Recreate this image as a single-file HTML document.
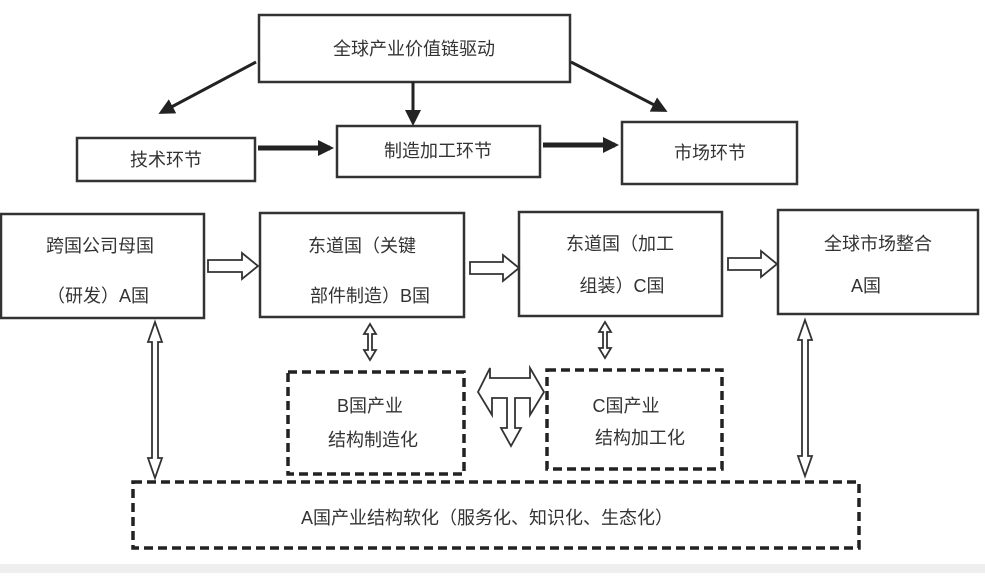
<!DOCTYPE html>
<html><head><meta charset="utf-8"><style>
body{margin:0;background:#fff}
svg text{font-family:"Liberation Sans","Noto Sans CJK SC",sans-serif;fill:#333;font-size:18px}
</style></head><body>
<svg width="985" height="573" viewBox="0 0 985 573" xmlns="http://www.w3.org/2000/svg">
<rect width="985" height="573" fill="#fff"/>
<rect x="0" y="564" width="985" height="9" fill="#eee"/>
<defs><marker id="ah" markerWidth="8" markerHeight="8" refX="6" refY="4" orient="auto" markerUnits="userSpaceOnUse"><path d="M0,0 L8,4 L0,8 z" fill="#222"/></marker>
<marker id="ah2" markerWidth="16" markerHeight="16" refX="12" refY="8" orient="auto" markerUnits="userSpaceOnUse"><path d="M0,0 L16,8 L0,16 z" fill="#222"/></marker></defs>
<g fill="none" stroke="#333" stroke-width="2.5">
<rect x="259" y="15" width="311" height="67"/>
<rect x="77" y="138" width="178" height="43"/>
<rect x="337" y="126" width="203" height="51"/>
<rect x="622" y="122" width="175" height="62"/>
<rect x="1" y="214" width="203" height="104"/>
<rect x="260" y="213" width="204" height="104"/>
<rect x="519" y="212" width="203" height="104"/>
<rect x="778" y="210" width="200" height="104"/>
</g>
<g fill="none" stroke="#222" stroke-width="3.5" stroke-dasharray="9,5">
<rect x="288" y="372" width="176" height="102"/>
<rect x="547" y="370" width="175" height="99"/>
<rect x="133" y="482" width="726" height="66"/>
</g>
<g stroke="#222" stroke-width="3">
<line x1="256" y1="62" x2="162" y2="112" marker-end="url(#ah2)"/>
<line x1="571" y1="62" x2="664" y2="110" marker-end="url(#ah2)"/>
<line x1="413" y1="82" x2="413" y2="122" marker-end="url(#ah2)"/>
<line x1="258" y1="148" x2="330" y2="148" stroke-width="5" marker-end="url(#ah2)"/>
<line x1="543" y1="145" x2="615" y2="145" stroke-width="5" marker-end="url(#ah2)"/>
</g>
<g fill="#fff" stroke="#333" stroke-width="1.8">
<path d="M208,260 H242 V253 L258,266 L242,279 V272 H208 Z"/>
<path d="M470,262 H503 V255 L519,268 L503,281 V274 H470 Z"/>
<path d="M728,258 H761 V251 L777,264 L761,277 V270 H728 Z"/>
<path d="M155,322 L162,342 H158 V458 H162 L155,478 L148,458 H152 V342 H148 Z"/>
<path d="M805,320 L812,340 H808 V456 H812 L805,476 L798,456 H802 V340 H798 Z"/>
<path d="M370,324 L376,334 H372 V350 H376 L370,360 L364,350 H368 V334 H364 Z"/>
<path d="M605,322 L611,332 H607 V348 H611 L605,358 L599,348 H603 V332 H599 Z"/>
<path d="M478,392 L490,368 V378 H530 V368 L544,392 L530,415 V398 H515 V428 H521 L511,446 L501,428 H507 V398 H492 V415 Z"/>
</g>
<text x="414" y="55" text-anchor="middle">全球产业价值链驱动</text>
<text x="166" y="166" text-anchor="middle">技术环节</text>
<text x="438" y="157" text-anchor="middle">制造加工环节</text>
<text x="710" y="159" text-anchor="middle">市场环节</text>
<text x="100" y="252" text-anchor="middle">跨国公司母国</text>
<text x="98" y="302" text-anchor="middle">（研发）A国</text>
<text x="362" y="252" text-anchor="middle">东道国（关键</text>
<text x="370" y="302" text-anchor="middle">部件制造）B国</text>
<text x="620" y="250" text-anchor="middle">东道国（加工</text>
<text x="622" y="292" text-anchor="middle">组装）C国</text>
<text x="878" y="250" text-anchor="middle">全球市场整合</text>
<text x="866" y="292" text-anchor="middle">A国</text>
<text x="370" y="412" text-anchor="middle">B国产业</text>
<text x="373" y="446" text-anchor="middle">结构制造化</text>
<text x="626" y="412" text-anchor="middle">C国产业</text>
<text x="640" y="444" text-anchor="middle">结构加工化</text>
<text x="487" y="524" text-anchor="middle">A国产业结构软化（服务化、知识化、生态化）</text>
</svg>
</body></html>
